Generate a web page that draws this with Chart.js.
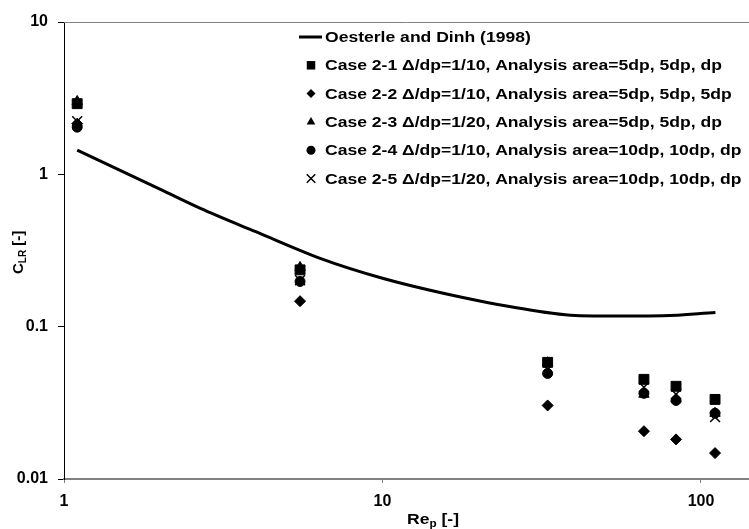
<!DOCTYPE html>
<html>
<head>
<meta charset="utf-8">
<script src="https://cdn.jsdelivr.net/npm/chart.js@4/dist/chart.umd.min.js"></script>
<style>
html,body{margin:0;padding:0;background:#fff;}
#wrap{position:relative;width:749px;height:529px;}
</style>
</head>
<body>
<div id="wrap"><canvas id="c" width="749" height="529"></canvas></div>
<script>
// ---- data ----
const curveRe  = [1.1, 2, 2.67, 4, 6.37, 10, 15.9, 27.6, 41.7, 53, 76, 111];
const curveCLR = [1.44, 0.80, 0.60, 0.42, 0.281, 0.208, 0.164, 0.131, 0.118, 0.1175, 0.118, 0.124];

const rep    = [1.10, 5.51, 33.0, 66.2, 83.5, 110.7];
const case21 = [2.91, 0.236, 0.0583, 0.0451, 0.0406, 0.0333];
const case22 = [2.15, 0.147, 0.0304, 0.0206, 0.0182, 0.0148];
const case23 = [3.01, 0.245, 0.0580, 0.0360, 0.0335, 0.0270];
const case24 = [2.04, 0.198, 0.0493, 0.0365, 0.0328, 0.0270];
const case25 = [2.23, 0.202, 0.0525, 0.0400, 0.0360, 0.0255];

const xTicks = [1, 10, 100];
const xTickLabels = ['1', '10', '100'];
const yTicks = [0.01, 0.1, 1, 10];
const yTickLabels = ['0.01', '0.1', '1', '10'];

const seriesNames = [
  'Oesterle and Dinh (1998)',
  'Case 2-1 \u0394/dp=1/10, Analysis area=5dp, 5dp, dp',
  'Case 2-2 \u0394/dp=1/10, Analysis area=5dp, 5dp, 5dp',
  'Case 2-3 \u0394/dp=1/20, Analysis area=5dp, 5dp, dp',
  'Case 2-4 \u0394/dp=1/10, Analysis area=10dp, 10dp, dp',
  'Case 2-5 \u0394/dp=1/20, Analysis area=10dp, 10dp, dp'
];

const pts = (xs, ys) => xs.map((x, i) => ({x: x, y: ys[i]}));
const FONT = '"Liberation Sans", Arial, sans-serif';
const SX = 1.17; // horizontal stretch of text in reference

const markerStyles = [
  null,
  {style: 'rect', r: 7, lr: 6},
  {style: 'rectRot', r: 5.5, lr: 4.5},
  {style: 'triangle', r: 6, lr: 5},
  {style: 'circle', r: 5, lr: 4.5},
  {style: 'crossRot', r: 7, lr: 6}
];
const caseData = [null, case21, case22, case23, case24, case25];

function drawMarker(ctx, style, x, y, r) {
  ctx.save();
  ctx.fillStyle = '#000';
  ctx.strokeStyle = '#000';
  ctx.lineWidth = 1.5;
  ctx.beginPath();
  if (style === 'rect') {
    const s = r * Math.SQRT1_2;
    ctx.rect(x - s, y - s, 2 * s, 2 * s);
    ctx.fill();
  } else if (style === 'rectRot') {
    ctx.moveTo(x, y - r); ctx.lineTo(x + r, y); ctx.lineTo(x, y + r); ctx.lineTo(x - r, y); ctx.closePath();
    ctx.fill();
  } else if (style === 'triangle') {
    ctx.moveTo(x, y - r);
    ctx.lineTo(x + r * 0.866, y + r * 0.5);
    ctx.lineTo(x - r * 0.866, y + r * 0.5);
    ctx.closePath(); ctx.fill();
  } else if (style === 'circle') {
    ctx.arc(x, y, r, 0, Math.PI * 2); ctx.fill();
  } else if (style === 'crossRot') {
    const s = r * Math.SQRT1_2;
    ctx.moveTo(x - s, y - s); ctx.lineTo(x + s, y + s);
    ctx.moveTo(x + s, y - s); ctx.lineTo(x - s, y + s);
    ctx.stroke();
  }
  ctx.restore();
}

function stretchedText(ctx, text, x, y, font) {
  ctx.save();
  ctx.font = font;
  ctx.translate(x, y);
  ctx.scale(SX, 1);
  ctx.fillText(text, 0, 0);
  const w = ctx.measureText(text).width * SX;
  ctx.restore();
  return w;
}

const decorPlugin = {
  id: 'decor',
  afterDraw(chart) {
    const ctx = chart.ctx;
    const a = chart.chartArea;
    // top frame line
    ctx.save();
    ctx.strokeStyle = '#808080';
    ctx.lineWidth = 1;
    ctx.beginPath();
    ctx.moveTo(a.left, a.top + 0.5);
    ctx.lineTo(chart.width, a.top + 0.5);
    ctx.stroke();
    ctx.restore();

    // legend
    ctx.save();
    ctx.fillStyle = '#000';
    ctx.textBaseline = 'middle';
    const lx = 311, tx = 325, y0 = 37, dy = 28.3;
    const f = 'bold 15px ' + FONT;
    for (let i = 0; i < seriesNames.length; i++) {
      const y = y0 + i * dy;
      if (i === 0) {
        ctx.strokeStyle = '#000';
        ctx.lineWidth = 3;
        ctx.beginPath();
        ctx.moveTo(299, y); ctx.lineTo(322, y);
        ctx.stroke();
      } else {
        drawMarker(ctx, markerStyles[i].style, lx, y, markerStyles[i].lr);
      }
      stretchedText(ctx, seriesNames[i], tx, y + 1, f);
    }
    ctx.restore();

    // x axis title: Re_p [-]
    ctx.save();
    ctx.fillStyle = '#000';
    ctx.textBaseline = 'alphabetic';
    let x = 407;
    x += stretchedText(ctx, 'Re', x, 524, 'bold 15px ' + FONT);
    x += stretchedText(ctx, 'p', x, 527, 'bold 10px ' + FONT);
    stretchedText(ctx, ' [-]', x, 524, 'bold 15px ' + FONT);
    ctx.restore();

    // y axis title: C_LR [-]
    ctx.save();
    ctx.fillStyle = '#000';
    ctx.textBaseline = 'alphabetic';
    ctx.translate(23, 274);
    ctx.rotate(-Math.PI / 2);
    ctx.font = 'bold 15px ' + FONT;
    let p = 0;
    ctx.fillText('C', p, 0); p += ctx.measureText('C').width;
    ctx.font = 'bold 10px ' + FONT;
    ctx.fillText('LR', p, 3); p += ctx.measureText('LR').width;
    ctx.font = 'bold 15px ' + FONT;
    ctx.fillText(' [-]', p, 0);
    ctx.restore();
  }
};

const datasets = [{
  label: seriesNames[0],
  type: 'line',
  data: pts(curveRe, curveCLR),
  borderColor: '#000',
  borderWidth: 3,
  pointRadius: 0,
  fill: false,
  tension: 0.4,
  cubicInterpolationMode: 'monotone',
  order: 10
}];
for (let i = 1; i <= 5; i++) {
  datasets.push({
    label: seriesNames[i],
    type: 'scatter',
    data: pts(rep, caseData[i]),
    pointStyle: markerStyles[i].style,
    pointRadius: markerStyles[i].r,
    pointBackgroundColor: '#000',
    pointBorderColor: '#000',
    pointBorderWidth: markerStyles[i].style === 'crossRot' ? 1.5 : 1,
    showLine: false,
    order: 6 - i
  });
}

new Chart(document.getElementById('c'), {
  data: {datasets: datasets},
  options: {
    responsive: false,
    animation: false,
    events: [],
    layout: {autoPadding: false, padding: {top: 22, right: 0, left: 0, bottom: 0}},
    plugins: {legend: {display: false}, tooltip: {enabled: false}},
    scales: {
      x: {
        type: 'logarithmic',
        position: 'bottom',
        min: 1,
        max: 141.5,
        afterBuildTicks: s => { s.ticks = xTicks.map(v => ({value: v})); },
        afterFit: s => { s.height = 50; s.paddingLeft = 0; s.paddingRight = 0; },
        border: {color: '#808080', width: 2},
        grid: {drawOnChartArea: false, drawTicks: true, tickLength: 4, color: '#808080'},
        ticks: {
          color: '#000',
          font: {family: FONT, size: 16, weight: 'bold'},
          padding: 9,
          maxRotation: 0,
          autoSkip: false,
          callback: v => { const k = xTicks.indexOf(v); return k >= 0 ? xTickLabels[k] : null; }
        }
      },
      y: {
        type: 'logarithmic',
        position: 'left',
        min: 0.01,
        max: 10,
        afterBuildTicks: s => { s.ticks = yTicks.map(v => ({value: v})); },
        afterFit: s => { s.width = 64; s.paddingTop = 0; s.paddingBottom = 0; },
        border: {color: '#000', width: 1},
        grid: {drawOnChartArea: false, drawTicks: true, tickLength: 6, color: '#000'},
        ticks: {
          color: '#000',
          font: {family: FONT, size: 16, weight: 'bold'},
          padding: 10,
          autoSkip: false,
          callback: v => { const k = yTicks.indexOf(v); return k >= 0 ? yTickLabels[k] : null; }
        }
      }
    }
  },
  plugins: [decorPlugin]
});
</script>
</body>
</html>
